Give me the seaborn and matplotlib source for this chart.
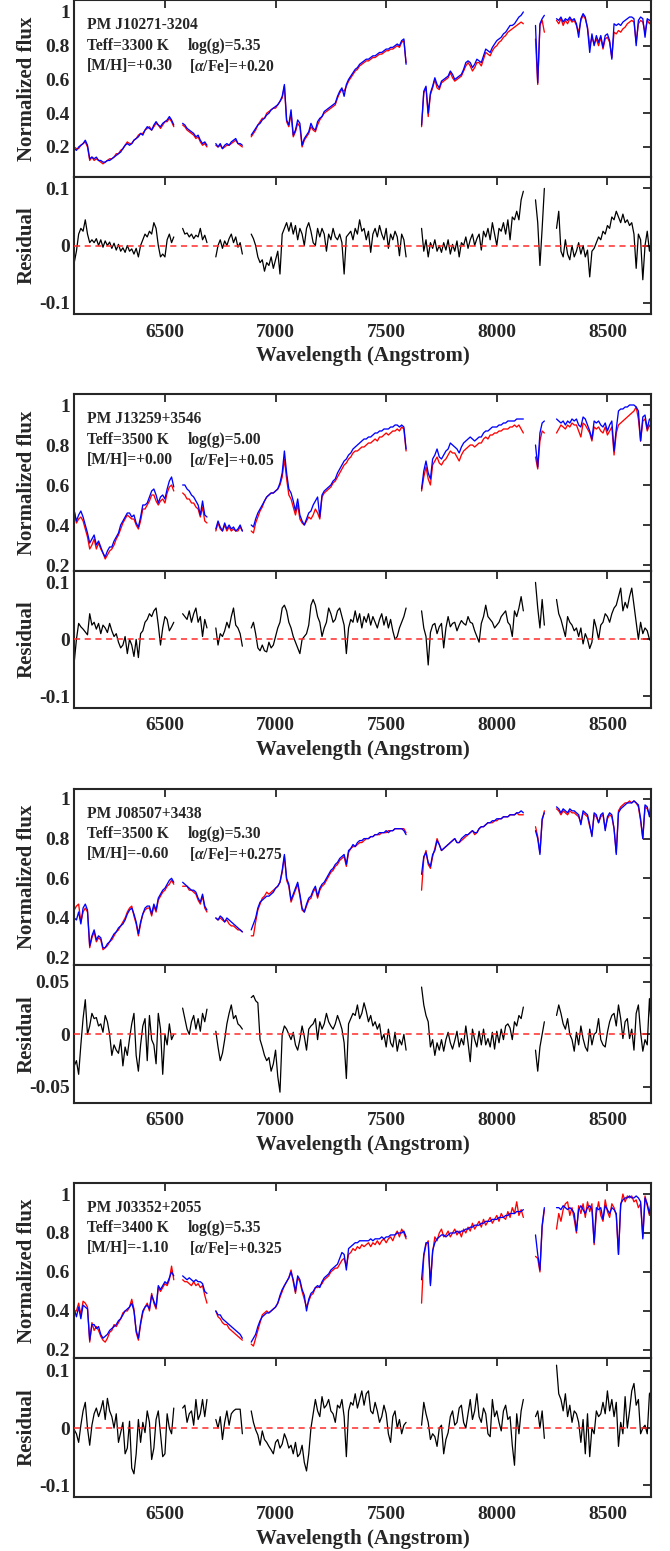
import numpy as np
import pandas as pd
import matplotlib
matplotlib.use("Agg")
import matplotlib.pyplot as plt
from matplotlib.ticker import FuncFormatter
import seaborn as sns

# ---------------- data ----------------
# wavelength segments (Angstrom): start, stop, step
SEG_START = [6090, 6580, 6730, 6890, 7660, 8175, 8270]
SEG_STOP = [6540, 6690, 6850, 7590, 8120, 8215, 8700]
SEG_STEP = [10, 10, 10, 10, 10, 10, 10]

STAR_NAMES = ["PM J10271-3204", "PM J13259+3546", "PM J08507+3438", "PM J03352+2055"]
TEFF_TXT = ["Teff=3300 K", "Teff=3500 K", "Teff=3500 K", "Teff=3400 K"]
LOGG_TXT = ["log(g)=5.35", "log(g)=5.00", "log(g)=5.30", "log(g)=5.35"]
MH_TXT = ["[M/H]=+0.30", "[M/H]=+0.00", "[M/H]=-0.60", "[M/H]=-1.10"]
AFE_TXT = ["+0.20", "+0.05", "+0.275", "+0.325"]

XTICKS = [6500, 7000, 7500, 8000, 8500]
FLUX_TICKS = [0.2, 0.4, 0.6, 0.8, 1.0]
RES_TICKS = [[-0.1, 0, 0.1], [-0.1, 0, 0.1], [-0.05, 0, 0.05], [-0.1, 0, 0.1]]

# ---- panel 1 ----
P1_MODEL = [
    .19,.18,.20,.21,.22,.24,.21,.13,.14,.13, .14,.12,.12,.11,.11,.12,.12,.13,.14,.15,
    .16,.17,.19,.21,.22,.21,.22,.24,.25,.26, .28,.27,.30,.32,.31,.30,.33,.35,.33,.32,
    .34,.35,.36,.38,.36,.33,
    .34,.33,.31,.30,.29,.28,.26,.27,.24,.22,.23,.21,
    .22,.20,.22,.19,.21,.22,.21,.23,.24,.25,.22,.22,.21,
    .27,.29,.31,.33,.34,.36,.37,.39,.40,.42, .43,.44,.45,.47,.50,.57,.36,.33,.42,.27,
    .30,.36,.34,.21,.25,.27,.29,.34,.31,.30, .35,.37,.38,.41,.42,.43,.44,.45,.46,.50,
    .53,.55,.50,.57,.60,.62,.64,.66,.67,.69, .70,.71,.72,.72,.73,.74,.74,.75,.76,.76,
    .77,.78,.78,.79,.79,.80,.81,.80,.83,.84, .69,
    .33,.53,.56,.40,.52,.56,.61,.57,.55,.59, .60,.61,.62,.65,.63,.60,.61,.62,.63,.66,
    .70,.71,.70,.67,.69,.72,.71,.70,.74,.78, .77,.76,.79,.81,.83,.84,.85,.87,.88,.90,
    .92,.92,.93,.95,.97,.98,1.00,
    .92,.58,.93,.96,.98,
    .96,.95,.97,.94,.96,.95,.97,.95,.96,.93, .85,.96,.99,.97,.90,.76,.87,.80,.86,.82,
    .86,.79,.86,.87,.83,.72,.93,.92,.93,.92, .94,.95,.96,.97,.97,.96,.80,.95,.97,.96,
    .85,.96,.95,.96]
P1_OBS = [
    .20,.19,.19,.21,.22,.23,.20,.12,.14,.12, .13,.12,.11,.10,.11,.12,.13,.13,.14,.16,
    .16,.18,.19,.21,.23,.22,.22,.24,.25,.27, .28,.28,.30,.31,.32,.30,.32,.34,.33,.31,
    .33,.35,.35,.37,.35,.32,
    .33,.32,.30,.29,.28,.27,.25,.26,.23,.21,.22,.20,
    .21,.20,.21,.19,.20,.21,.21,.22,.23,.24,.22,.21,.20,
    .26,.28,.30,.33,.35,.37,.37,.40,.41,.42, .43,.43,.45,.47,.49,.56,.35,.32,.40,.26,
    .29,.34,.32,.20,.24,.26,.28,.32,.30,.29, .33,.36,.38,.40,.41,.42,.43,.44,.45,.49,
    .52,.54,.53,.56,.59,.61,.63,.65,.66,.68, .69,.70,.71,.71,.72,.73,.73,.74,.75,.75,
    .76,.77,.77,.78,.78,.79,.80,.79,.82,.83, .70,
    .32,.52,.55,.38,.51,.55,.60,.55,.54,.58, .59,.60,.61,.64,.61,.59,.60,.61,.62,.65,
    .68,.70,.68,.65,.67,.70,.70,.68,.72,.76, .75,.74,.77,.79,.80,.82,.83,.85,.86,.88,
    .89,.90,.91,.92,.93,.94,.93,
    .84,.57,.92,.95,.88,
    .95,.93,.96,.92,.95,.93,.96,.94,.95,.92, .88,.95,.98,.96,.91,.80,.85,.81,.84,.80,
    .85,.78,.84,.85,.82,.73,.88,.87,.89,.88, .90,.91,.93,.94,.95,.94,.82,.93,.95,.94,
    .88,.95,.93,.96]
P1_RESID = [
    -.03,-.01,.02,.03,.025,.045,.02,.005,.01,.005, .012,.0,.01,-.003,.008,.0,.006,-.005,.004,-.008,
    .002,-.01,-.004,-.012,.0,-.01,-.006,-.015,-.005,-.02, .0,.01,.02,.015,.025,.02,.04,.03,.0,-.02,
    -.015,-.02,.01,.02,.005,.015,
    .03,.02,.022,.015,.02,.012,.018,.015,.03,.01,.018,.005,
    -.02,.0,.01,-.005,.008,.0,.012,.02,.005,.015,-.003,.005,-.015,
    .02,.012,.0,-.02,-.03,-.025,-.045,-.03,-.035,-.02, -.04,-.025,-.01,-.05,.02,.03,.04,.025,.04,.02,
    .035,.01,.03,.02,.0,.03,.04,.025,.005,.0, .03,.015,.03,.02,-.01,.02,.01,.03,.015,.01,
    .02,.005,-.05,.015,.02,.025,.01,.03,.02,.045, .025,.03,.01,.025,-.012,.02,.03,.015,.035,.02,
    .01,.03,-.005,.02,.01,.025,.015,-.018,.02,.01, -.02,
    .03,-.01,.01,-.02,.005,-.005,.01,-.01,.0,-.012, .005,-.008,.01,-.015,.002,-.01,.008,-.02,.005,.0,
    .015,-.005,.01,.02,.0,.012,.02,-.008,.025,.015, .03,.01,.04,.02,.0,.03,.025,.04,.02,.045,
    .01,.05,.045,.06,.045,.08,.095,
    .08,.04,-.035,.03,.1,
    .03,.06,-.01,-.02,.01,-.015,-.025,.0,-.02,-.01, .005,-.015,.0,-.02,-.008,-.055,-.01,-.005,.005,.015,
    .01,.025,.02,.035,.03,.05,.045,.06,.05,.04, .055,.04,.045,.035,.04,.02,-.04,.02,.01,-.06,
    .0,.025,-.01,.01]

# ---- panel 2 ----
P2_MODEL = [
    .47,.42,.45,.47,.44,.40,.36,.31,.33,.35, .30,.32,.29,.26,.24,.27,.29,.29,.32,.34,
    .36,.40,.42,.44,.46,.46,.44,.45,.41,.39, .44,.50,.50,.51,.54,.57,.58,.55,.51,.54,
    .55,.53,.58,.62,.64,.59,
    .60,.60,.58,.57,.55,.54,.52,.50,.45,.52,.45,.44,
    .38,.42,.39,.37,.41,.38,.40,.38,.39,.37,.38,.40,.37,
    .40,.39,.43,.46,.48,.50,.52,.54,.55,.56, .56,.57,.58,.61,.66,.77,.66,.58,.56,.52,
    .47,.53,.45,.42,.40,.43,.46,.47,.50,.52, .54,.44,.55,.57,.58,.59,.60,.62,.63,.66,
    .68,.70,.72,.73,.75,.76,.78,.79,.80,.81, .82,.83,.83,.84,.84,.85,.86,.86,.87,.87,
    .88,.88,.88,.89,.89,.90,.90,.89,.90,.89, .78,
    .58,.67,.72,.66,.63,.73,.75,.78,.74,.73, .75,.77,.78,.81,.80,.79,.78,.76,.79,.81,
    .82,.83,.84,.83,.82,.83,.84,.84,.86,.87, .87,.88,.89,.89,.89,.90,.90,.91,.91,.92,
    .92,.92,.92,.93,.93,.93,.93,
    .80,.69,.86,.91,.92,
    .93,.92,.91,.92,.90,.92,.91,.93,.92,.93, .90,.89,.94,.93,.90,.87,.83,.92,.91,.92,
    .90,.89,.91,.87,.90,.92,.77,.88,.97,.98, .98,.99,.99,1.00,1.00,1.00,.99,.97,.82,.94,
    .95,.88,.93,.92]
P2_OBS = [
    .47,.41,.43,.44,.42,.38,.34,.28,.30,.33, .28,.31,.28,.26,.23,.25,.27,.28,.30,.33,
    .35,.38,.41,.43,.45,.44,.43,.43,.40,.38, .42,.48,.48,.50,.52,.55,.55,.52,.50,.52,
    .53,.51,.56,.59,.60,.57,
    .56,.55,.53,.53,.51,.51,.49,.48,.44,.49,.42,.41,
    .37,.41,.38,.37,.40,.37,.39,.37,.38,.37,.37,.39,.37,
    .37,.36,.41,.44,.47,.49,.52,.54,.55,.56, .56,.57,.58,.60,.64,.73,.63,.55,.53,.49,
    .45,.50,.43,.41,.40,.42,.44,.43,.45,.48, .46,.43,.54,.56,.57,.58,.59,.61,.62,.64,
    .66,.68,.70,.71,.73,.74,.76,.77,.77,.78, .79,.79,.80,.81,.81,.82,.83,.82,.84,.84,
    .85,.86,.85,.86,.87,.87,.88,.87,.89,.88, .77,
    .57,.64,.69,.63,.60,.70,.72,.74,.71,.70, .72,.73,.75,.77,.76,.76,.74,.72,.75,.77,
    .78,.79,.80,.80,.79,.80,.81,.81,.83,.84, .83,.85,.85,.86,.86,.87,.87,.88,.88,.88,
    .89,.89,.90,.89,.90,.88,.86,
    .74,.68,.82,.87,.86,
    .86,.88,.90,.89,.88,.90,.89,.91,.90,.90, .87,.84,.91,.90,.88,.86,.82,.89,.88,.89,
    .87,.86,.89,.85,.87,.89,.75,.86,.90,.91, .92,.93,.94,.95,.96,.97,.99,.93,.82,.92,
    .93,.87,.90,.88]
P2_RESID = [
    -.04,.0,.028,.022,.018,.013,.008,.045,.025,.03, .018,.028,.01,.025,.02,.012,.028,.015,.005,.01,
    -.005,-.015,-.01,.005,-.025,.0,-.01,-.03,.0,-.032, .01,.015,.03,.035,.045,.04,.05,.055,.025,-.01,
    .02,.04,.035,.015,.022,.03,
    .045,.04,.035,.05,.03,.045,.055,.03,.04,.005,.035,.02,
    .02,-.01,.01,.005,.015,.03,.02,.04,.055,.025,.02,.01,-.012,
    .02,.03,.01,-.015,-.02,-.01,-.02,-.022,-.005,-.015, -.01,.005,.02,.03,.055,.06,.05,.03,.02,.005,
    -.005,-.015,-.025,.0,.005,.01,.025,.06,.07,.06, .04,.03,.005,.02,.03,.055,.045,.03,.035,.05,
    .055,.04,.025,-.025,.02,.035,.03,.05,.03,.045, .02,.04,.03,.045,.025,.04,.03,.02,.035,.045,
    .025,.04,.02,.035,.015,.0,.005,.02,.03,.04, .055,
    .05,.02,.005,-.045,.012,.025,.028,.01,.022,.028, -.015,.02,.04,.022,.028,.03,.015,.025,.033,.028,
    .025,.04,.03,.028,.015,.005,-.005,.028,.04,.06, .04,.035,.03,.02,.025,.03,.04,.045,.05,.03,
    .025,.005,.05,.04,.055,.075,.05,
    .1,.055,.02,.07,.025,
    .07,.045,.035,.02,.005,.04,.03,.025,.015,.02, .005,.02,-.008,.01,.0,-.016,-.005,.035,.02,.0,
    .025,.03,.045,.04,.03,.045,.055,.06,.075,.09, .05,.065,.055,.075,.09,.06,.03,.0,.03,.01,
    .02,.015,.0,-.005]

# ---- panel 3 ----
P3_MODEL = [
    .40,.39,.43,.37,.45,.47,.44,.26,.31,.34, .29,.31,.30,.25,.25,.27,.28,.30,.32,.33,
    .35,.36,.37,.39,.42,.44,.45,.42,.38,.32, .38,.42,.45,.46,.46,.42,.47,.44,.50,.52,
    .54,.55,.57,.59,.60,.58,
    .58,.57,.56,.55,.54,.54,.53,.50,.48,.52,.46,.44,
    .40,.39,.41,.40,.38,.40,.39,.38,.37,.36,.35,.34,.33,
    .34,.37,.40,.45,.48,.49,.50,.51,.51,.52, .53,.55,.56,.58,.64,.72,.60,.57,.49,.52,
    .55,.58,.52,.45,.43,.47,.50,.51,.54,.56, .51,.55,.57,.58,.60,.62,.64,.65,.67,.68,
    .70,.71,.72,.67,.74,.75,.77,.76,.78,.79, .79,.80,.80,.80,.81,.81,.82,.82,.83,.83,
    .83,.84,.83,.84,.84,.85,.85,.85,.85,.84, .82,
    .62,.71,.73,.68,.66,.72,.74,.79,.77,.74, .75,.76,.77,.78,.79,.80,.78,.78,.80,.81,
    .82,.82,.83,.84,.83,.83,.85,.86,.86,.87, .88,.88,.89,.89,.90,.90,.90,.91,.91,.91,
    .92,.92,.92,.93,.93,.94,.93,
    .84,.80,.72,.90,.93,
    .96,.95,.93,.95,.94,.93,.95,.94,.94,.93, .92,.87,.94,.93,.92,.87,.81,.93,.92,.88,
    .92,.93,.84,.91,.93,.92,.85,.72,.93,.95, .96,.97,.98,.98,.98,.99,.98,.97,.90,.80,
    .97,.96,.91,1.00]
P3_OBS = [
    .44,.46,.47,.38,.43,.45,.43,.25,.30,.33, .28,.30,.29,.24,.25,.26,.28,.29,.31,.33,
    .34,.36,.38,.40,.43,.45,.46,.41,.37,.31, .37,.42,.44,.45,.45,.41,.46,.43,.49,.51,
    .53,.54,.56,.57,.59,.57,
    .56,.56,.56,.54,.54,.53,.52,.49,.47,.51,.45,.43,
    .40,.39,.40,.39,.38,.39,.37,.36,.36,.35,.34,.34,.33,
    .31,.31,.38,.44,.47,.50,.51,.53,.52,.53, .54,.55,.56,.58,.63,.71,.59,.56,.48,.51,
    .54,.57,.51,.44,.43,.46,.49,.50,.53,.55, .50,.54,.56,.57,.59,.61,.63,.64,.66,.67,
    .69,.70,.71,.66,.73,.75,.76,.76,.77,.78, .78,.79,.80,.80,.81,.81,.82,.82,.82,.83,
    .83,.83,.84,.84,.84,.85,.85,.85,.85,.85, .83,
    .54,.70,.74,.67,.65,.71,.75,.80,.77,.74, .75,.76,.77,.78,.79,.80,.78,.78,.79,.80,
    .81,.82,.83,.84,.82,.83,.85,.86,.86,.87, .88,.88,.88,.89,.89,.90,.90,.91,.91,.91,
    .92,.92,.92,.93,.92,.92,.92,
    .86,.81,.73,.89,.94,
    .95,.94,.92,.94,.93,.92,.94,.93,.93,.92, .91,.88,.93,.92,.91,.86,.82,.92,.91,.88,
    .91,.92,.85,.90,.92,.91,.85,.73,.94,.96, .97,.98,.98,.99,.98,.99,.98,.96,.89,.80,
    .96,.95,.92,.99]
P3_RESID = [
    -.03,-.025,-.038,-.01,.015,.033,.0,.008,.02,.015, .016,.008,.01,.002,.018,.012,.0,-.02,-.01,-.015,
    -.018,-.005,-.03,-.012,-.02,-.004,.01,.02,-.02,-.035, -.01,.008,.015,-.025,.018,-.005,-.01,-.028,.02,.005,
    -.038,.0,-.01,.01,-.005,.0,
    .025,.015,.005,.0,.012,.018,.005,.015,.003,.02,.012,.024,
    .003,-.012,-.025,-.018,-.005,.01,.02,.028,.015,.018,.01,.008,.005,
    .035,.037,.032,.03,-.005,-.012,-.02,-.025,-.022,-.035, -.028,-.015,-.04,-.055,.0,.008,.005,.0,-.005,.002,
    -.01,-.015,-.005,.008,-.002,-.015,.005,.008,.01,.015, -.005,.012,.005,.01,.02,.012,.008,.005,.01,.018,
    .012,.005,-.008,-.042,.01,.015,.02,.018,.028,.015, .02,.03,.022,.012,.018,.008,.012,.005,.01,-.005,
    .0,-.012,.005,-.008,-.012,.002,-.016,-.005,-.01,.0, -.015,
    .045,.028,.018,.012,-.012,-.005,-.02,-.008,-.015,-.005, -.016,-.005,.002,-.008,-.014,-.006,.003,-.012,-.004,-.01,
    .008,-.008,-.026,.005,-.005,-.012,.003,-.01,.005,-.01, -.004,-.012,.002,-.014,.003,-.008,.005,-.005,.008,.01,
    .006,-.005,.012,.008,.018,.015,.026,
    -.015,-.035,-.012,.0,.012,
    .018,.028,.02,.01,.005,.015,.0,-.005,-.016,.002, -.01,.008,-.004,-.012,-.016,.005,-.01,.0,.002,.015,
    -.005,-.01,-.012,.002,.012,.018,.02,.008,.028,.015, -.004,.012,.015,-.004,.005,-.015,.02,.028,.002,-.016,
    -.005,-.01,.034,.0]

# ---- panel 4 ----
P4_MODEL = [
    .41,.37,.42,.36,.43,.42,.41,.25,.33,.33, .31,.32,.28,.26,.27,.28,.30,.31,.32,.33,
    .35,.36,.38,.40,.41,.42,.44,.40,.30,.26, .34,.40,.42,.43,.41,.48,.45,.42,.53,.51,
    .53,.55,.54,.57,.60,.58,
    .58,.57,.56,.57,.56,.55,.56,.55,.55,.54,.50,.49,
    .40,.38,.38,.36,.35,.34,.33,.32,.31,.30,.29,.28,.26,
    .24,.26,.28,.32,.35,.37,.38,.39,.39,.40, .41,.42,.44,.48,.51,.53,.55,.57,.60,.56,
    .50,.58,.56,.51,.48,.40,.46,.49,.50,.52, .53,.52,.55,.57,.58,.59,.61,.62,.63,.64,
    .67,.70,.69,.61,.72,.73,.74,.75,.75,.76, .76,.76,.76,.76,.77,.76,.77,.77,.77,.78,
    .77,.78,.78,.79,.79,.79,.80,.80,.80,.81, .78,
    .56,.69,.75,.75,.53,.71,.75,.77,.78,.79, .79,.78,.79,.80,.80,.80,.81,.80,.81,.81,
    .82,.82,.83,.83,.84,.84,.84,.85,.85,.86, .86,.86,.87,.87,.87,.88,.88,.88,.89,.89,
    .90,.90,.90,.91,.91,.91,.92,
    .79,.69,.61,.84,.93,
    .93,.93,.92,.94,.93,.92,.93,.92,.90,.81, .92,.94,.92,.90,.93,.94,.92,.75,.93,.92,
    .93,.87,.94,.92,.90,.93,.92,.90,.69,.95, .97,.98,.98,.99,.98,.98,.99,.98,.96,.77,
    .98,.95,.90,.98]
P4_OBS = [
    .40,.40,.44,.38,.45,.44,.42,.24,.34,.30, .32,.30,.27,.25,.24,.26,.29,.30,.33,.32,
    .34,.36,.39,.40,.40,.42,.46,.41,.29,.25, .33,.39,.42,.44,.40,.49,.44,.41,.52,.50,
    .52,.54,.53,.56,.63,.56,
    .56,.55,.55,.54,.53,.55,.53,.54,.52,.53,.48,.44,
    .40,.37,.36,.34,.33,.33,.31,.30,.29,.28,.27,.26,.25,
    .23,.22,.26,.30,.34,.38,.39,.40,.39,.40, .41,.42,.44,.47,.50,.53,.55,.57,.61,.55,
    .49,.57,.55,.50,.46,.42,.45,.48,.49,.52, .52,.53,.54,.56,.57,.58,.60,.61,.62,.62,
    .64,.66,.67,.63,.69,.70,.72,.71,.73,.72, .74,.73,.74,.75,.73,.75,.74,.76,.74,.76,
    .77,.75,.77,.78,.76,.79,.81,.78,.82,.80, .77,
    .44,.68,.74,.76,.54,.70,.78,.76,.80,.82, .78,.79,.81,.78,.80,.82,.79,.81,.78,.82,
    .80,.83,.81,.85,.82,.84,.86,.83,.87,.84, .86,.88,.85,.87,.89,.86,.90,.88,.87,.91,
    .88,.93,.90,.96,.89,.92,.88,
    .68,.67,.60,.83,.92,
    .82,.90,.86,.92,.95,.96,.89,.93,.87,.80, .94,.90,.95,.88,.96,.91,.95,.74,.90,.96,
    .89,.86,.97,.91,.88,.95,.93,.89,.69,.94, 1.0,.96,.99,.98,.99,.96,.97,.93,.95,.78,
    .99,.94,.89,.97]
P4_RESID = [
    -.003,-.01,-.025,.005,.03,.045,.0,-.03,.005,.025, .035,.02,.032,.048,.015,.052,.03,.02,.0,.025,
    -.025,-.008,.01,-.045,-.035,.012,-.07,-.08,-.045,.015, -.025,.01,-.008,.03,.01,-.055,-.035,.015,.03,-.01,
    -.05,-.045,.025,.0,-.01,.035,
    .035,.04,.01,.025,.03,.005,.05,.015,.025,.05,.02,.05,
    .015,.0,.02,-.02,.01,.03,.005,.025,.03,.033,.033,.033,-.01,
    .03,.01,-.003,-.012,-.03,-.005,-.02,-.025,-.032,-.038, -.045,-.025,-.02,-.035,-.028,-.01,-.02,-.035,-.03,-.045,
    -.025,-.05,-.045,-.03,-.06,-.075,-.045,.0,.025,.05, .03,.02,.055,.035,.04,.05,.03,.025,.01,.04,
    .035,.05,.02,-.05,.03,.045,.04,.06,.035,.05, .065,.04,.06,.065,.03,.025,.045,.03,.01,.02,
    .04,.025,-.01,-.025,.02,.03,.0,.015,-.01,.005, .01,
    .005,.045,.025,.01,-.02,-.01,-.015,-.032,.0,.005, -.045,-.02,-.008,.02,.03,.005,.01,.035,.04,.01,
    .0,.025,.05,.015,.03,.06,.02,.01,.035,.025, -.01,-.015,.05,.02,.03,.01,-.005,.03,.04,.015,
    .02,-.03,-.065,.025,-.01,.03,.05,
    .02,.03,.0,.03,-.018,
    .11,.06,.05,.03,.06,.02,.04,.01,.03,.025, .01,-.025,.015,-.045,.025,-.05,.0,-.01,.03,.02,
    .025,.045,.025,.065,.03,.05,.02,.045,-.032,.01, -.01,.055,.0,.03,.065,.078,.04,.05,-.01,.0,
    .005,-.01,.06,.065]

FLUX_OBS = [P1_OBS, P2_OBS, P3_OBS, P4_OBS]
FLUX_MODEL = [P1_MODEL, P2_MODEL, P3_MODEL, P4_MODEL]
RESIDUALS = [P1_RESID, P2_RESID, P3_RESID, P4_RESID]

# ---------------- layout (pixels of the 670x1551 canvas) ----------------
W, H = 670, 1551
AX_LEFT, AX_RIGHT = 74, 651
PANEL_PX = [(0.3, 177, 314), (394, 571, 707.7), (789, 965, 1102.7), (1183.3, 1358.3, 1496.7)]
FLUX_YLIM = [(0.022, 1.069), (0.17, 1.055), (0.163, 1.05), (0.157, 1.055)]
RES_YLIM = [(-0.12, 0.12), (-0.12, 0.12), (-0.065, 0.066), (-0.12, 0.122)]
XLIM = (6089, 8697)

# ---------------- style ----------------
sns.set_style("white")
plt.rcParams.update({
    "font.family": ["Liberation Serif", "DejaVu Serif"],
    "font.weight": "bold",
    "axes.labelweight": "bold",
    "mathtext.fontset": "custom",
    "mathtext.rm": "Liberation Serif:bold",
    "mathtext.it": "Liberation Serif:italic",
    "axes.unicode_minus": False,
    "axes.edgecolor": "#262626",
    "axes.linewidth": 1.5,
    "xtick.color": "#262626",
    "ytick.color": "#262626",
})

wave_segments = [np.arange(a, b + 1, s) for a, b, s in zip(SEG_START, SEG_STOP, SEG_STEP)]
wave = np.concatenate(wave_segments)
seg_id = np.concatenate([np.full(len(w), i) for i, w in enumerate(wave_segments)])

fig = plt.figure(figsize=(W / 100, H / 100), dpi=100)
fmt = FuncFormatter(lambda v, p: "%g" % round(v, 3))


def style_axis(ax):
    ax.tick_params(axis="both", which="both", direction="in", top=True, right=True,
                   length=6, width=1.3, labelsize=14)
    ax.tick_params(axis="x", pad=7)
    ax.tick_params(axis="y", pad=3)
    for sp in ax.spines.values():
        sp.set_visible(True)
        sp.set_linewidth(1.5)
        sp.set_color("#262626")


for k in range(4):
    obs, mod, res = FLUX_OBS[k], FLUX_MODEL[k], RESIDUALS[k]
    n = len(wave)
    if not (len(obs) == n and len(mod) == n and len(res) == n):
        raise ValueError(f"panel {k+1}: wave {n}, obs {len(obs)}, model {len(mod)}, resid {len(res)}")
    df = pd.DataFrame({"wave": wave, "seg": seg_id, "obs": obs, "model": mod, "resid": res})

    top, mid, bot = PANEL_PX[k]
    axf = fig.add_axes([AX_LEFT / W, 1 - mid / H, (AX_RIGHT - AX_LEFT) / W, (mid - top) / H])
    axr = fig.add_axes([AX_LEFT / W, 1 - bot / H, (AX_RIGHT - AX_LEFT) / W, (bot - mid) / H])

    sns.lineplot(data=df, x="wave", y="obs", units="seg", estimator=None, sort=False,
                 color="#ff0000", linewidth=0.95, ax=axf)
    sns.lineplot(data=df, x="wave", y="model", units="seg", estimator=None, sort=False,
                 color="#0000ff", linewidth=0.95, ax=axf)
    sns.lineplot(data=df, x="wave", y="resid", units="seg", estimator=None, sort=False,
                 color="black", linewidth=0.9, ax=axr)
    axr.axhline(0, color="#ff2a2a", linestyle=(0, (4, 3)), linewidth=1.1, zorder=5)

    for ax in (axf, axr):
        ax.set_xlim(*XLIM)
        ax.set_xticks(XTICKS)
        style_axis(ax)

    axf.set_ylim(*FLUX_YLIM[k])
    axf.set_yticks(FLUX_TICKS)
    axf.yaxis.set_major_formatter(fmt)
    axf.set_xticklabels([])
    axf.set_xlabel("")
    axf.set_ylabel("Normalized flux", fontsize=15, fontweight="bold")
    axf.yaxis.set_label_coords(-0.064, 0.5)

    axr.set_ylim(*RES_YLIM[k])
    axr.set_yticks(RES_TICKS[k])
    axr.yaxis.set_major_formatter(fmt)
    axr.xaxis.set_major_formatter(FuncFormatter(lambda v, p: "%d" % v))
    axr.set_ylabel("Residual", fontsize=15, fontweight="bold")
    axr.yaxis.set_label_coords(-0.064, 0.5)
    axr.set_xlabel("Wavelength (Angstrom)", fontsize=15, fontweight="bold", labelpad=4)

    for lab in axf.get_yticklabels() + axr.get_yticklabels() + axr.get_xticklabels():
        lab.set_fontweight("bold")

    tk = dict(transform=axf.transAxes, fontsize=11.2, fontweight="bold", va="center", ha="left")
    axf.text(0.0225, 0.859, STAR_NAMES[k], **tk)
    axf.text(0.0225, 0.742, TEFF_TXT[k], **tk)
    axf.text(0.197, 0.742, LOGG_TXT[k], **tk)
    axf.text(0.0225, 0.628, MH_TXT[k], **tk)
    axf.text(0.200, 0.628, r"[$\alpha$/Fe]=" + AFE_TXT[k], **tk)

fig.savefig("out.png", dpi=100)
